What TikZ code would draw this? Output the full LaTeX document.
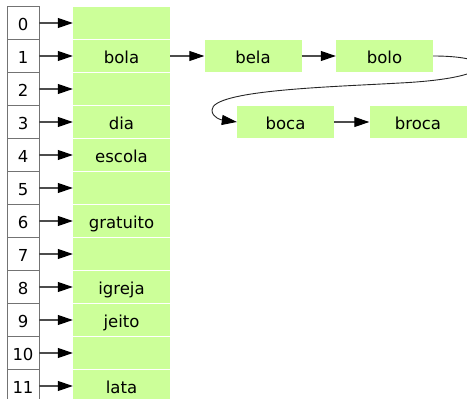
\documentclass[tikz,border=0pt]{standalone}
\usepackage{fontspec}
\setmainfont{DejaVu Sans}
\usetikzlibrary{arrows.meta}
\definecolor{cellgreen}{RGB}{204,255,153}
\tikzset{
  txt/.style={font=\fontsize{16.5}{18}\selectfont, text height=15pt, text depth=1pt},
  idx/.style={txt, draw=black!55, line width=0.8pt, fill=white, minimum width=32pt, minimum height=33pt,
    inner sep=0pt},
  cell/.style={txt, fill=cellgreen, minimum width=97pt, minimum height=32pt, inner sep=0pt},
  link/.style={draw=black!70, line width=1.1pt,
    -{Triangle[length=15pt,width=10pt,fill=black,color=black]}},
  curvelink/.style={draw=black!85, line width=0.9pt,
    -{Triangle[length=15pt,width=10pt,fill=black,color=black]}}
}
\begin{document}
\begin{tikzpicture}[x=1pt,y=-1pt]
  \useasboundingbox (0,0) rectangle (467,399);
  % hash table: index column, buckets and pointer arrows
  \foreach \i/\w in {0/,1/bola,2/,3/dia,4/escola,5/,6/gratuito,7/,8/igreja,9/jeito,10/,11/lata} {
    \node[idx]  (i\i) at (23, 23+33*\i) {\i};
    \node[cell] (c\i) at (121.5, 23+33*\i) {\w};
    \draw[link] (i\i.east) -- (c\i.west);
  }
  % overflow chain of bucket 1
  \node[cell] (bela)  at (253, 56)  {bela};
  \node[cell] (bolo)  at (384.5, 56) {bolo};
  \node[cell] (boca)  at (285.5, 122) {boca};
  \node[cell] (broca) at (418, 122) {broca};
  \draw[link] (c1.east) -- (bela.west);
  \draw[link] (bela.east) -- (bolo.west);
  % wrap-around link from the end of the first row back to the second row
  \coordinate (turn) at (400,83);
  \coordinate (loop) at (212,110);
  \draw[curvelink] (bolo.east) .. controls (500,56) and (500,78) .. (turn)
    .. controls (330,87) and (212,90) .. (loop)
    .. controls (212,118) and (222,120) .. (boca.west);
  \draw[link] (boca.east) -- (broca.west);
\end{tikzpicture}
\end{document}
